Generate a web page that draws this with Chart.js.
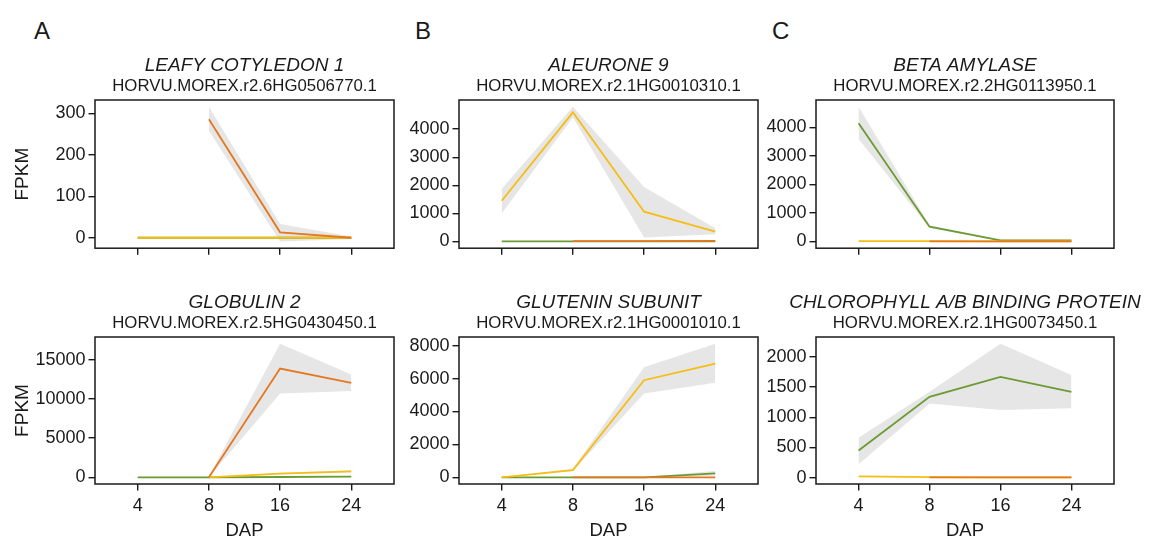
<!DOCTYPE html>
<html>
<head>
<meta charset="utf-8">
<script src="https://cdn.jsdelivr.net/npm/chart.js@4.4.1/dist/chart.umd.min.js"></script>
<style>
  html, body { margin: 0; padding: 0; background: #fff; }
  #figure { position: relative; width: 1153px; height: 544px; overflow: hidden; }
  #figure canvas { position: absolute; }
  .panel-letter {
    position: absolute;
    font: 24px "Liberation Sans", Arial, sans-serif;
    line-height: 24px;
    color: #1a1a1a;
  }
</style>
</head>
<body>
<div id="figure">
  <div class="panel-letter" style="left:34px;top:19px">A</div>
  <div class="panel-letter" style="left:415px;top:19px">B</div>
  <div class="panel-letter" style="left:772px;top:19px">C</div>
</div>
<script>
// x categories (days after pollination)
const dap = ['4', '8', '16', '24'];

// A, top: LEAFY COTYLEDON 1
const lec1Orange   = [null, 286, 13, 0];
const lec1OrangeLo = [null, 258, -9, -3];
const lec1OrangeHi = [null, 316, 33, 3];
const lec1Yellow   = [0, 0, 0, 0];
const lec1Green    = [0, 0, 0, 0];
const lec1Ticks    = [0, 100, 200, 300];

// B, top: ALEURONE 9
const ale9Orange   = [null, 15, 15, 20];
const ale9Yellow   = [1450, 4600, 1060, 350];
const ale9YellowLo = [1000, 4420, 140, 260];
const ale9YellowHi = [1880, 4800, 1940, 470];
const ale9Green    = [0, 0, 0, 0];
const ale9Ticks    = [0, 1000, 2000, 3000, 4000];

// C, top: BETA AMYLASE
const bamyOrange   = [null, 0, 0, 0];
const bamyYellow   = [10, 10, 0, 0];
const bamyGreen    = [4150, 520, 40, 40];
const bamyGreenLo  = [3600, 470, 20, 20];
const bamyGreenHi  = [4730, 570, 60, 60];
const bamyTicks    = [0, 1000, 2000, 3000, 4000];

// A, bottom: GLOBULIN 2
const glob2Orange   = [null, 0, 13860, 12040];
const glob2OrangeLo = [null, 0, 10690, 10990];
const glob2OrangeHi = [null, 150, 17030, 13100];
const glob2Yellow   = [null, 0, 480, 760];
const glob2YellowLo = [null, 0, 380, 620];
const glob2YellowHi = [null, 0, 580, 900];
const glob2Green    = [0, 0, 40, 90];
const glob2Ticks    = [0, 5000, 10000, 15000];

// B, bottom: GLUTENIN SUBUNIT
const gluOrange   = [null, 0, 0, 0];
const gluYellow   = [0, 440, 5900, 6910];
const gluYellowLo = [0, 380, 5100, 5740];
const gluYellowHi = [0, 520, 6690, 8120];
const gluGreen    = [0, 0, 0, 240];
const gluGreenLo  = [0, 0, 0, 100];
const gluGreenHi  = [0, 0, 0, 400];
const gluTicks    = [0, 2000, 4000, 6000, 8000];

// C, bottom: CHLOROPHYLL A/B BINDING PROTEIN
const cabOrange   = [null, 5, 5, 5];
const cabYellow   = [20, 8, 5, 5];
const cabGreen    = [450, 1340, 1670, 1420];
const cabGreenLo  = [220, 1230, 1120, 1150];
const cabGreenHi  = [660, 1425, 2220, 1700];
const cabTicks    = [0, 500, 1000, 1500, 2000];

const ORANGE = '#E5781E';
const YELLOW = '#F6BD14';
const GREEN = '#6C9A33';
const RIBBON = 'rgba(128, 128, 128, 0.2)';
const INK = '#1a1a1a';
const FONT = '"Liberation Sans", Arial, sans-serif';

const panels = [
  { key: 'lec1', gene: 'LEAFY COTYLEDON 1', id: 'HORVU.MOREX.r2.6HG0506770.1', ticks: lec1Ticks,
    series: [
      { color: ORANGE, values: lec1Orange, lo: lec1OrangeLo, hi: lec1OrangeHi },
      { color: YELLOW, values: lec1Yellow },
      { color: GREEN, values: lec1Green }
    ] },
  { key: 'ale9', gene: 'ALEURONE 9', id: 'HORVU.MOREX.r2.1HG0010310.1', ticks: ale9Ticks,
    series: [
      { color: ORANGE, values: ale9Orange },
      { color: YELLOW, values: ale9Yellow, lo: ale9YellowLo, hi: ale9YellowHi },
      { color: GREEN, values: ale9Green }
    ] },
  { key: 'bamy', gene: 'BETA AMYLASE', id: 'HORVU.MOREX.r2.2HG0113950.1', ticks: bamyTicks,
    series: [
      { color: ORANGE, values: bamyOrange },
      { color: YELLOW, values: bamyYellow },
      { color: GREEN, values: bamyGreen, lo: bamyGreenLo, hi: bamyGreenHi }
    ] },
  { key: 'glob2', gene: 'GLOBULIN 2', id: 'HORVU.MOREX.r2.5HG0430450.1', ticks: glob2Ticks,
    series: [
      { color: ORANGE, values: glob2Orange, lo: glob2OrangeLo, hi: glob2OrangeHi },
      { color: YELLOW, values: glob2Yellow, lo: glob2YellowLo, hi: glob2YellowHi },
      { color: GREEN, values: glob2Green }
    ] },
  { key: 'glu', gene: 'GLUTENIN SUBUNIT', id: 'HORVU.MOREX.r2.1HG0001010.1', ticks: gluTicks,
    series: [
      { color: ORANGE, values: gluOrange },
      { color: YELLOW, values: gluYellow, lo: gluYellowLo, hi: gluYellowHi },
      { color: GREEN, values: gluGreen, lo: gluGreenLo, hi: gluGreenHi }
    ] },
  { key: 'cab', gene: 'CHLOROPHYLL A/B BINDING PROTEIN', id: 'HORVU.MOREX.r2.1HG0073450.1', ticks: cabTicks,
    series: [
      { color: ORANGE, values: cabOrange },
      { color: YELLOW, values: cabYellow },
      { color: GREEN, values: cabGreen, lo: cabGreenLo, hi: cabGreenHi }
    ] }
];

// Where each panel sits on the page
const columns = [
  { left: 0,   width: 400, yAxisWidth: 95, padRight: 6,  yTitle: true },
  { left: 395, width: 375, yAxisWidth: 64, padRight: 12, yTitle: false },
  { left: 760, width: 393, yAxisWidth: 56, padRight: 39, yTitle: false }
];
const rows = [
  { top: 0,   height: 262, padTop: 100, xAxisHeight: 12, xLabels: false },
  { top: 270, height: 274, padTop: 67,  xAxisHeight: 60, xLabels: true }
];

// Frame around the plot plus the gene name / id above it
const panelFrame = {
  id: 'panelFrame',
  afterDraw(chart, args, opts) {
    const { ctx, chartArea: a } = chart;
    ctx.save();
    ctx.strokeStyle = INK;
    ctx.lineWidth = 1.5;
    ctx.strokeRect(a.left, a.top, a.right - a.left, a.bottom - a.top);
    const cx = (a.left + a.right) / 2;
    ctx.fillStyle = INK;
    ctx.textAlign = 'center';
    ctx.textBaseline = 'middle';
    ctx.font = 'italic 19px ' + FONT;
    ctx.fillText(opts.gene, cx, a.top - 34);
    ctx.font = '16.8px ' + FONT;
    ctx.fillText(opts.id, cx, a.top - 14);
    ctx.restore();
  }
};

function toPoints(values) {
  return values.map((y, i) => ({ x: i + 1, y: y }));
}

// ggplot-like 5% expansion of the data extent
function yRange(series) {
  let all = [];
  series.forEach(s => {
    all = all.concat(s.values, s.lo || [], s.hi || []);
  });
  all = all.filter(v => v !== null);
  const lo = Math.min(...all);
  const hi = Math.max(...all);
  const pad = (hi - lo) * 0.05;
  return [lo - pad, hi + pad];
}

function drawPanel(p, index) {
  const col = columns[index % 3];
  const row = rows[Math.floor(index / 3)];

  const canvas = document.createElement('canvas');
  canvas.width = col.width;
  canvas.height = row.height;
  canvas.style.left = col.left + 'px';
  canvas.style.top = row.top + 'px';
  document.getElementById('figure').appendChild(canvas);

  // lines first so they sit on top; orange over yellow over green
  const datasets = p.series.map(s => ({
    data: toPoints(s.values),
    borderColor: s.color,
    borderWidth: 1.8,
    pointRadius: 0,
    tension: 0,
    fill: false
  }));
  p.series.forEach(s => {
    if (!s.lo) return;
    datasets.push({ data: toPoints(s.hi), borderWidth: 0, borderColor: 'transparent', pointRadius: 0, fill: false });
    datasets.push({ data: toPoints(s.lo), borderWidth: 0, borderColor: 'transparent', pointRadius: 0,
      fill: '-1', backgroundColor: RIBBON });
  });

  const range = yRange(p.series);

  new Chart(canvas, {
    type: 'line',
    data: { datasets: datasets },
    options: {
      responsive: false,
      animation: false,
      events: [],
      devicePixelRatio: 1,
      layout: { padding: { top: row.padTop, right: col.padRight, left: 0, bottom: 0 } },
      plugins: {
        legend: { display: false },
        tooltip: { enabled: false },
        filler: { drawTime: 'beforeDatasetsDraw' },
        panelFrame: { gene: p.gene, id: p.id }
      },
      scales: {
        x: {
          type: 'linear',
          min: 0.4,
          max: 4.6,
          afterBuildTicks: s => { s.ticks = dap.map((d, i) => ({ value: i + 1 })); },
          afterFit: s => { s.height = row.xAxisHeight; },
          ticks: {
            display: row.xLabels,
            color: INK,
            padding: 4.5,
            font: { family: FONT, size: 18 },
            callback: (v, i) => dap[i]
          },
          grid: { drawOnChartArea: false, tickLength: 6.5, color: INK, lineWidth: 1.4 },
          border: { display: false },
          title: {
            display: row.xLabels,
            text: 'DAP',
            color: INK,
            font: { family: FONT, size: 18.5 },
            padding: { top: 0, bottom: 2 }
          }
        },
        y: {
          min: range[0],
          max: range[1],
          afterBuildTicks: s => { s.ticks = p.ticks.map(v => ({ value: v })); },
          afterFit: s => { s.width = col.yAxisWidth; },
          ticks: {
            color: INK,
            padding: 3,
            font: { family: FONT, size: 18 },
            callback: v => String(v)
          },
          grid: { drawOnChartArea: false, tickLength: 6.5, color: INK, lineWidth: 1.4 },
          border: { display: false },
          title: {
            display: col.yTitle,
            text: 'FPKM',
            color: INK,
            font: { family: FONT, size: 19 },
            padding: { top: 11.1, bottom: 0 }
          }
        }
      }
    },
    plugins: [panelFrame]
  });
}

panels.forEach(drawPanel);
</script>
</body>
</html>
